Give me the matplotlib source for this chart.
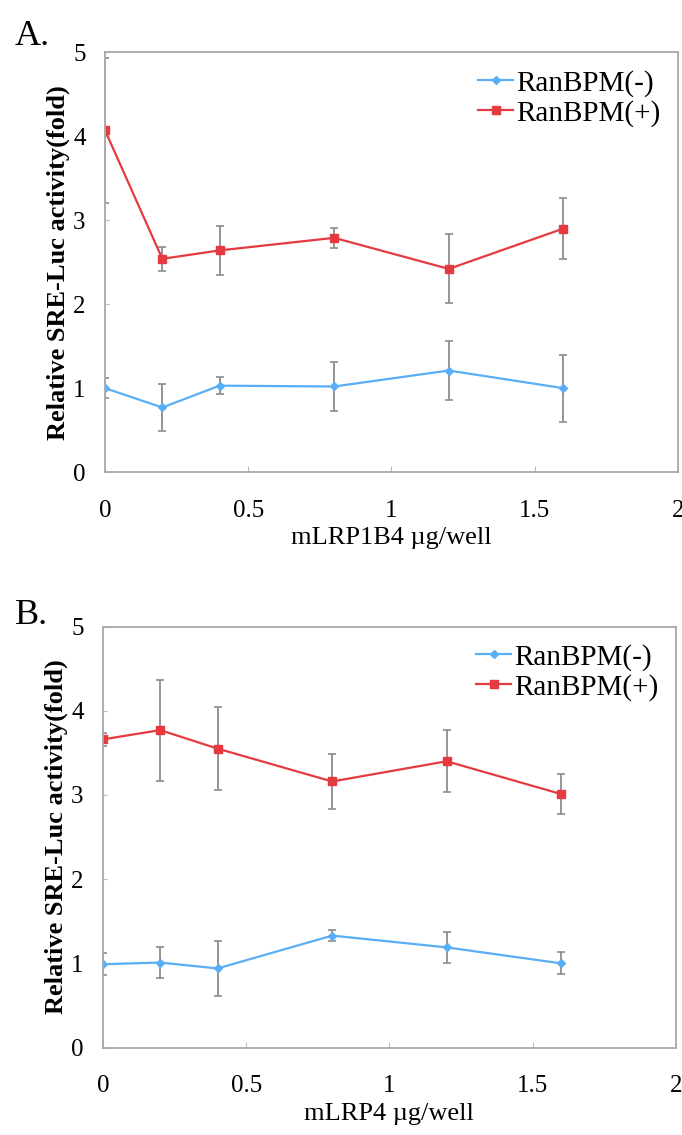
import matplotlib.pyplot as plt

plt.rcParams['font.family'] = ['Liberation Serif', 'DejaVu Serif']

# dose (ug/well)
dose = [0, 0.2, 0.4, 0.8, 1.2, 1.6]

# panel A: mLRP1B4
a_minus = [1.00, 0.77, 1.03, 1.02, 1.21, 1.00]
a_minus_err = [0.12, 0.28, 0.10, 0.29, 0.35, 0.40]
a_plus = [4.07, 2.54, 2.64, 2.79, 2.42, 2.90]
a_plus_err = [0.86, 0.14, 0.29, 0.12, 0.41, 0.36]

# panel B: mLRP4
b_minus = [0.99, 1.01, 0.94, 1.33, 1.19, 1.00]
b_minus_err = [0.13, 0.18, 0.33, 0.07, 0.18, 0.13]
b_plus = [3.66, 3.77, 3.55, 3.16, 3.40, 3.01]
b_plus_err = [0.08, 0.60, 0.49, 0.33, 0.37, 0.24]

blue = '#5AAEF5'
red = '#E53A3F'
grey = '#8C8C8C'

fig = plt.figure(figsize=(6.82, 11.35), dpi=100)
axA = fig.add_axes([0.154, 0.584, 0.840, 0.370])
axB = fig.add_axes([0.151, 0.077, 0.840, 0.371])

panels = [
    (axA, a_minus, a_minus_err, a_plus, a_plus_err, 'mLRP1B4 \u00b5g/well'),
    (axB, b_minus, b_minus_err, b_plus, b_plus_err, 'mLRP4 \u00b5g/well'),
]

for ax, ym, em, yp, ep, xl in panels:
    ax.errorbar(dose, ym, yerr=em, fmt='none', ecolor=grey, elinewidth=1.3,
                capsize=3, capthick=1.2)
    ax.errorbar(dose, yp, yerr=ep, fmt='none', ecolor=grey, elinewidth=1.3,
                capsize=3, capthick=1.2)
    ax.plot(dose, ym, color=blue, lw=1.6, marker='D', ms=4, label='RanBPM(-)')
    ax.plot(dose, yp, color=red, lw=1.6, marker='s', ms=6, label='RanBPM(+)')
    ax.set_xlim(0, 2)
    ax.set_ylim(0, 5)
    ax.set_xticks([0, 0.5, 1, 1.5, 2])
    ax.set_xticklabels(['0', '0.5', '1', '1.5', '2'])
    ax.set_yticks([0, 1, 2, 3, 4, 5])
    ax.tick_params(axis='x', direction='in', length=4, color='#BBBBBB',
                   labelsize=18, pad=20)
    ax.tick_params(axis='y', direction='in', length=3, color='#BBBBBB',
                   labelsize=18, pad=14)
    for s in ax.spines.values():
        s.set_color('#A8A8A8')
        s.set_linewidth(1.3)
    ax.set_xlabel(xl, fontsize=19, labelpad=4)
    ax.set_ylabel('Relative SRE-Luc activity(fold)', fontsize=19,
                  fontweight='bold', labelpad=2)
    ax.legend(loc='upper right', frameon=False, fontsize=21,
              handlelength=1.2, handletextpad=0.1, borderaxespad=0.2,
              labelspacing=0.1)

fig.text(0.022, 1 - 45 / 1135, 'A.', fontsize=26, va='baseline', ha='left')
fig.text(0.022, 1 - 624 / 1135, 'B.', fontsize=26, va='baseline', ha='left')

fig.savefig('out.png', dpi=100)
